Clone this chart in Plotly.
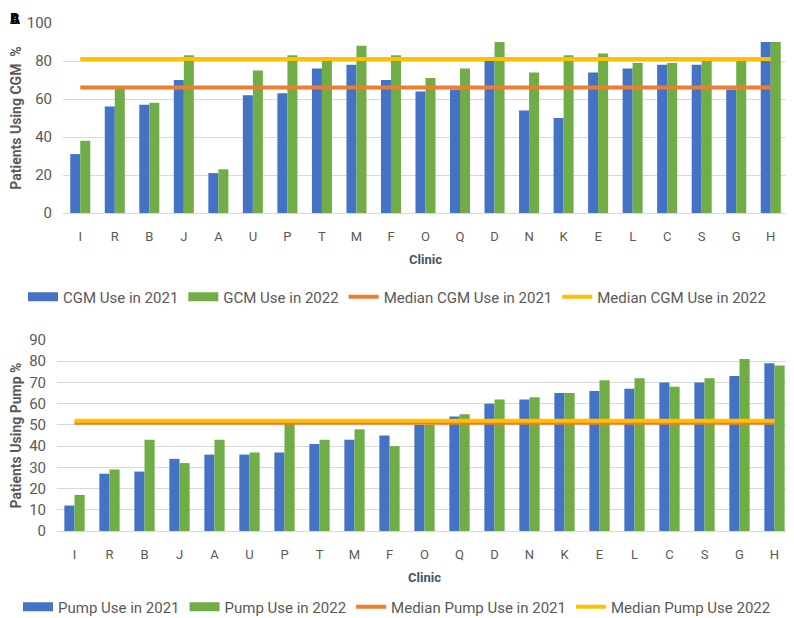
import plotly.graph_objects as go

clinics = ["I", "R", "B", "J", "A", "U", "P", "T", "M", "F", "O",
           "Q", "D", "N", "K", "E", "L", "C", "S", "G", "H"]

cgm_2021 = [31, 56, 57, 70, 21, 62, 63, 76, 78, 70, 64,
            65, 80, 54, 50, 74, 76, 78, 78, 65, 90]
cgm_2022 = [38, 66, 58, 83, 23, 75, 83, 81, 88, 83, 71,
            76, 90, 74, 83, 84, 79, 79, 81, 81, 90]
cgm_median_2021 = 66
cgm_median_2022 = 81

pump_2021 = [12, 27, 28, 34, 36, 36, 37, 41, 43, 45, 50,
             54, 60, 62, 65, 66, 67, 70, 70, 73, 79]
pump_2022 = [17, 29, 43, 32, 43, 37, 51, 43, 48, 40, 50,
             55, 62, 63, 65, 71, 72, 68, 72, 81, 78]
pump_median_2021 = 51
pump_median_2022 = 52

BLUE = "#4472C4"
GREEN = "#70AD47"
ORANGE = "#ED7D31"
YELLOW = "#FFC000"
GREY = "#595959"
GRID = "#D9D9D9"
FONT = "Roboto"

fig = go.Figure()


def add_panel(xa, ya, leg, bars, medians):
    # bars: list of (name, values, color); medians: list of (name, value, color)
    for name, vals, color in bars:
        fig.add_trace(go.Bar(x=clinics, y=vals, name=name,
                             marker=dict(color=color, line=dict(width=0)),
                             xaxis=xa, yaxis=ya, legend=leg, showlegend=False))
    for name, val, color in medians:
        fig.add_trace(go.Scatter(x=clinics, y=[val] * len(clinics),
                                 name=name, mode="lines",
                                 line=dict(color=color, width=4),
                                 xaxis=xa, yaxis=ya, legend=leg,
                                 showlegend=False))
    # legend entries (wide rectangle keys like the original)
    for name, _, color in bars:
        fig.add_trace(go.Scatter(x=[None], y=[None], name=name, mode="lines",
                                 line=dict(color=color, width=9),
                                 xaxis=xa, yaxis=ya, legend=leg))
    for name, _, color in medians:
        fig.add_trace(go.Scatter(x=[None], y=[None], name=name, mode="lines",
                                 line=dict(color=color, width=4),
                                 xaxis=xa, yaxis=ya, legend=leg))


add_panel("x", "y", "legend",
          [("CGM Use in 2021", cgm_2021, BLUE),
           ("GCM Use in 2022", cgm_2022, GREEN)],
          [("Median CGM Use in 2021", cgm_median_2021, ORANGE),
           ("Median CGM Use in 2022", cgm_median_2022, YELLOW)])
add_panel("x2", "y2", "legend2",
          [("Pump Use in 2021", pump_2021, BLUE),
           ("Pump Use in 2022", pump_2022, GREEN)],
          [("Median Pump Use in 2021", pump_median_2021, ORANGE),
           ("Median Pump Use 2022", pump_median_2022, YELLOW)])

# the page body has an 8px margin, so the figure starts at (8, 8)
OFF = 8
W, H = 794 - OFF, 618 - OFF


def px_x(p):
    return (p - OFF) / W


def px_y(p):
    return 1 - (p - OFF) / H


xcommon = dict(type="category", showgrid=False, showline=True,
               linecolor=GRID, linewidth=1, ticks="", automargin=False,
               tickfont=dict(family=FONT, size=13, color=GREY),
               ticklabelstandoff=11,
               title=dict(text="<b>Clinic</b>", standoff=12,
                          font=dict(family=FONT, size=13, color="#44546A")))
ycommon = dict(showgrid=True, gridcolor=GRID, gridwidth=1, zeroline=False,
               showline=False, ticks="", automargin=False,
               tickfont=dict(family=FONT, size=15, color=GREY),
               ticklabelstandoff=10)

legend_common = dict(orientation="h", xanchor="center", x=px_x(397),
                     yanchor="middle", bgcolor="rgba(0,0,0,0)",
                     font=dict(family=FONT, size=15, color=GREY),
                     itemwidth=30, tracegroupgap=0, traceorder="normal")

fig.update_layout(
    width=W, height=H,
    margin=dict(l=0, r=0, t=0, b=0, autoexpand=False),
    paper_bgcolor="white", plot_bgcolor="white",
    barmode="group", bargap=0.42, bargroupgap=0,
    xaxis=dict(xcommon, domain=[px_x(63), px_x(788)], anchor="y"),
    yaxis=dict(ycommon, domain=[px_y(213), px_y(23)], anchor="x",
               range=[0, 100], dtick=20,
               title=dict(text="<b>Patients Using CGM  %</b>", standoff=12,
                          font=dict(family=FONT, size=14, color=GREY))),
    xaxis2=dict(xcommon, domain=[px_x(57), px_x(792)], anchor="y2"),
    yaxis2=dict(ycommon, domain=[px_y(531), px_y(340)], anchor="x2",
                range=[0, 90], dtick=10,
                title=dict(text="<b>Patients Using Pump %</b>", standoff=8,
                           font=dict(family=FONT, size=14, color=GREY))),
    legend=dict(legend_common, y=px_y(297)),
    legend2=dict(legend_common, y=px_y(607)),
    annotations=[
        dict(text="<b>A</b>", x=0.0, y=1.0, xref="paper", yref="paper",
             xanchor="left", yanchor="top", showarrow=False,
             font=dict(family=FONT, size=15, color="black")),
        dict(text="<b>B</b>", x=0.0, y=1.0, xref="paper", yref="paper",
             xanchor="left", yanchor="top", showarrow=False,
             font=dict(family=FONT, size=15, color="black")),
    ],
)

fig.write_html("out.html")
